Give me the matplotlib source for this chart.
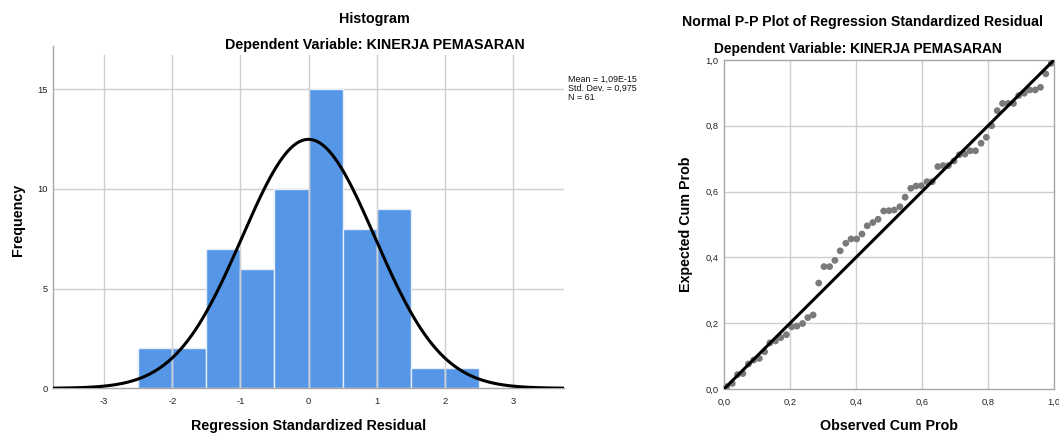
import numpy as np
import matplotlib
matplotlib.use("Agg")
import matplotlib.pyplot as plt

plt.rcParams['font.family'] = ['Liberation Sans', 'DejaVu Sans']

# ---------------- data ----------------
bin_left = [-2.5, -2.0, -1.5, -1.0, -0.5, 0.0, 0.5, 1.0, 1.5, 2.0]
bin_width = 0.5
counts = [2, 2, 7, 6, 10, 15, 8, 9, 1, 1]
hist_xticks = [-3, -2, -1, 0, 1, 2, 3]
hist_yticks = [0, 5, 10, 15]
MEAN = 1.09e-15
SD = 0.975
N = 61
stats_lines = ["Mean = 1,09E-15", "Std. Dev. = 0,975", "N = 61"]

observed_cum = [0.008, 0.025, 0.041, 0.057, 0.074, 0.090, 0.107, 0.123, 0.139, 0.156,
                0.172, 0.189, 0.205, 0.221, 0.238, 0.254, 0.270, 0.287, 0.303, 0.320,
                0.336, 0.352, 0.369, 0.385, 0.402, 0.418, 0.434, 0.451, 0.467, 0.484,
                0.500, 0.516, 0.533, 0.549, 0.566, 0.582, 0.598, 0.615, 0.631, 0.648,
                0.664, 0.680, 0.697, 0.713, 0.730, 0.746, 0.762, 0.779, 0.795, 0.811,
                0.828, 0.844, 0.861, 0.877, 0.893, 0.910, 0.926, 0.943, 0.959, 0.975,
                0.992]
expected_cum = [0.007, 0.017, 0.044, 0.047, 0.076, 0.088, 0.093, 0.113, 0.140, 0.146,
                0.156, 0.165, 0.189, 0.191, 0.199, 0.217, 0.225, 0.322, 0.372, 0.372,
                0.391, 0.420, 0.443, 0.456, 0.456, 0.471, 0.496, 0.506, 0.516, 0.541,
                0.542, 0.544, 0.554, 0.583, 0.610, 0.617, 0.618, 0.630, 0.630, 0.676,
                0.679, 0.679, 0.693, 0.712, 0.714, 0.724, 0.724, 0.747, 0.765, 0.800,
                0.846, 0.868, 0.868, 0.868, 0.892, 0.899, 0.909, 0.909, 0.917, 0.958,
                0.990]
pp_ticks = [0.0, 0.2, 0.4, 0.6, 0.8, 1.0]
pp_ticklabels = ["0,0", "0,2", "0,4", "0,6", "0,8", "1,0"]

# ---------------- figure ----------------
W, H = 1059, 437
fig = plt.figure(figsize=(W / 100, H / 100), dpi=100)

def rect(l, r, t, b):
    return [l / W, (H - b) / H, (r - l) / W, (b - t) / H]

GRID = "#CFCFCF"
SPINE = "#A8A8A8"
BAR = "#5596E6"
TITLE_FS = 10.3
LABEL_FS = 10.3
TICK_FS = 6.7

# ---- histogram ----
h_top, h_bot = 46, 388.3
ax = fig.add_axes(rect(53, 564, h_top, h_bot))
ax.set_xlim(-3.75, 3.75)
ax.set_ylim(0, (h_bot - h_top) / 19.95)
for s in ["top", "right"]:
    ax.spines[s].set_visible(False)
for s in ["left", "bottom"]:
    ax.spines[s].set_color(SPINE)
    ax.spines[s].set_linewidth(1.0)

for yv in hist_yticks[1:]:
    ax.axhline(yv, color=GRID, lw=1.0, zorder=0)
vtop = (h_bot - 55) / (h_bot - h_top)
for xv in hist_xticks:
    ax.axvline(xv, ymin=0, ymax=vtop, color=GRID, lw=1.0, zorder=2)

ax.bar(bin_left, counts, width=bin_width, align='edge', color=BAR,
       edgecolor="#E6EEF9", linewidth=1.0, zorder=1)

xs = np.linspace(-3.75, 3.75, 400)
curve = N * bin_width / (SD * np.sqrt(2 * np.pi)) * np.exp(-0.5 * ((xs - MEAN) / SD) ** 2)
ax.plot(xs, curve, color="black", lw=2.2, zorder=3, solid_capstyle='butt')

ax.set_xticks(hist_xticks)
ax.set_xticklabels([str(v) for v in hist_xticks])
ax.set_yticks(hist_yticks)
ax.tick_params(axis='both', length=0, labelsize=TICK_FS, colors="#222222")
ax.tick_params(axis='x', pad=6)
ax.tick_params(axis='y', pad=4)

for i, line in enumerate(stats_lines):
    fig.text(568 / W, (H - 79 - i * 9.5) / H, line, fontsize=6.4, va='center', ha='left',
             color="#111111")

fig.text(374.5 / W, (H - 22.7) / H, "Histogram", fontsize=TITLE_FS, fontweight='bold',
         ha='center', va='baseline')
fig.text(374.5 / W, (H - 49.3) / H, "Dependent Variable: KINERJA PEMASARAN",
         fontsize=TITLE_FS, fontweight='bold', ha='center', va='baseline')
fig.text(308.5 / W, (H - 430) / H, "Regression Standardized Residual", fontsize=LABEL_FS,
         fontweight='bold', ha='center', va='baseline')
fig.text(18 / W, (H - 220) / H, "Frequency", fontsize=LABEL_FS, fontweight='bold',
         ha='center', va='center', rotation=90)

# ---- P-P plot ----
bx = fig.add_axes(rect(724, 1054, 60, 389))
bx.set_xlim(0, 1)
bx.set_ylim(0, 1)
for s in bx.spines.values():
    s.set_color(SPINE)
    s.set_linewidth(1.0)
for v in pp_ticks[1:-1]:
    bx.axhline(v, color=GRID, lw=1.0, zorder=0)
    bx.axvline(v, color=GRID, lw=1.0, zorder=0)
bx.scatter(observed_cum, expected_cum, s=24, color="#7A7A7A", edgecolors='none', zorder=2,
           clip_on=False)
bx.plot([0, 1], [0, 1], color="black", lw=2.2, zorder=3)
bx.set_xticks(pp_ticks)
bx.set_xticklabels(pp_ticklabels)
bx.set_yticks(pp_ticks)
bx.set_yticklabels(pp_ticklabels)
bx.tick_params(axis='both', length=0, labelsize=TICK_FS, colors="#222222")
bx.tick_params(axis='x', pad=6)
bx.tick_params(axis='y', pad=4)

fig.text(862.5 / W, (H - 26) / H, "Normal P-P Plot of Regression Standardized Residual",
         fontsize=10.15, fontweight='bold', ha='center', va='baseline')
fig.text(858 / W, (H - 53.3) / H, "Dependent Variable: KINERJA PEMASARAN", fontsize=9.95,
         fontweight='bold', ha='center', va='baseline')
fig.text(889 / W, (H - 430) / H, "Observed Cum Prob", fontsize=LABEL_FS, fontweight='bold',
         ha='center', va='baseline')
fig.text(686 / W, (H - 224) / H, "Expected Cum Prob", fontsize=LABEL_FS, fontweight='bold',
         ha='center', va='center', rotation=90)

fig.savefig("out.png", dpi=100)
